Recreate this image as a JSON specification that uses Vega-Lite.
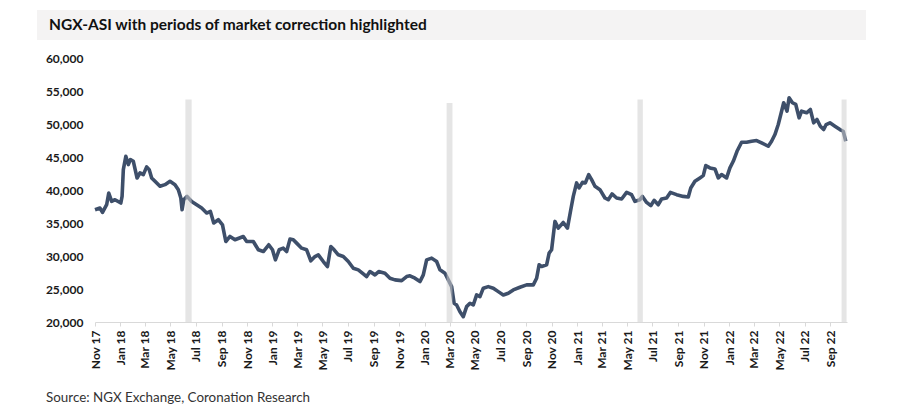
{
  "$schema": "https://vega.github.io/schema/vega-lite/v6.json",
  "background": "#fff",
  "padding": {"left": 37, "top": 10, "right": 0, "bottom": 0},
  "datasets": {
    "asi": [
      {"date": "2017-11-01", "value": 37000},
      {"date": "2017-11-13", "value": 37270},
      {"date": "2017-11-19", "value": 36600},
      {"date": "2017-11-29", "value": 37770},
      {"date": "2017-12-04", "value": 39550},
      {"date": "2017-12-11", "value": 38270},
      {"date": "2017-12-19", "value": 38530},
      {"date": "2018-01-02", "value": 38030},
      {"date": "2018-01-05", "value": 39030},
      {"date": "2018-01-08", "value": 43090},
      {"date": "2018-01-14", "value": 45110},
      {"date": "2018-01-20", "value": 43850},
      {"date": "2018-01-25", "value": 44610},
      {"date": "2018-02-01", "value": 44350},
      {"date": "2018-02-10", "value": 41820},
      {"date": "2018-02-17", "value": 42590},
      {"date": "2018-02-25", "value": 42330},
      {"date": "2018-03-05", "value": 43500},
      {"date": "2018-03-11", "value": 43090},
      {"date": "2018-03-17", "value": 41830},
      {"date": "2018-03-25", "value": 41320},
      {"date": "2018-04-06", "value": 40560},
      {"date": "2018-04-18", "value": 40810},
      {"date": "2018-04-30", "value": 41320},
      {"date": "2018-05-12", "value": 40810},
      {"date": "2018-05-20", "value": 40050},
      {"date": "2018-05-26", "value": 38790},
      {"date": "2018-05-29", "value": 37010},
      {"date": "2018-06-02", "value": 38530},
      {"date": "2018-06-10", "value": 39030},
      {"date": "2018-06-21", "value": 38270},
      {"date": "2018-07-03", "value": 37770},
      {"date": "2018-07-15", "value": 37270},
      {"date": "2018-07-27", "value": 36510},
      {"date": "2018-08-05", "value": 36760},
      {"date": "2018-08-13", "value": 35000},
      {"date": "2018-08-24", "value": 35500},
      {"date": "2018-09-03", "value": 34730},
      {"date": "2018-09-11", "value": 32200},
      {"date": "2018-09-21", "value": 32960},
      {"date": "2018-10-03", "value": 32460},
      {"date": "2018-10-23", "value": 32960},
      {"date": "2018-10-31", "value": 32200},
      {"date": "2018-11-16", "value": 32200},
      {"date": "2018-11-28", "value": 30940},
      {"date": "2018-12-10", "value": 30680},
      {"date": "2018-12-23", "value": 31700},
      {"date": "2019-01-01", "value": 30940},
      {"date": "2019-01-08", "value": 29420},
      {"date": "2019-01-17", "value": 30940},
      {"date": "2019-01-27", "value": 31190},
      {"date": "2019-02-04", "value": 30680},
      {"date": "2019-02-12", "value": 32560},
      {"date": "2019-02-20", "value": 32460},
      {"date": "2019-02-28", "value": 31950},
      {"date": "2019-03-12", "value": 31190},
      {"date": "2019-03-24", "value": 30940},
      {"date": "2019-04-03", "value": 29270},
      {"date": "2019-04-13", "value": 29920},
      {"date": "2019-04-21", "value": 30180},
      {"date": "2019-05-03", "value": 29160},
      {"date": "2019-05-13", "value": 28400},
      {"date": "2019-05-21", "value": 31440},
      {"date": "2019-05-29", "value": 30940},
      {"date": "2019-06-08", "value": 30180},
      {"date": "2019-06-20", "value": 29920},
      {"date": "2019-07-02", "value": 29160},
      {"date": "2019-07-14", "value": 28150},
      {"date": "2019-07-26", "value": 27900},
      {"date": "2019-08-07", "value": 27290},
      {"date": "2019-08-15", "value": 26880},
      {"date": "2019-08-23", "value": 27640},
      {"date": "2019-09-04", "value": 27140},
      {"date": "2019-09-13", "value": 27640},
      {"date": "2019-09-28", "value": 27390},
      {"date": "2019-10-10", "value": 26630},
      {"date": "2019-10-22", "value": 26380},
      {"date": "2019-11-07", "value": 26270},
      {"date": "2019-11-19", "value": 26880},
      {"date": "2019-11-27", "value": 26990},
      {"date": "2019-12-09", "value": 26630},
      {"date": "2019-12-21", "value": 26120},
      {"date": "2019-12-29", "value": 27140},
      {"date": "2020-01-06", "value": 29420},
      {"date": "2020-01-18", "value": 29680},
      {"date": "2020-01-30", "value": 29160},
      {"date": "2020-02-07", "value": 27900},
      {"date": "2020-02-19", "value": 27390},
      {"date": "2020-02-27", "value": 26380},
      {"date": "2020-03-06", "value": 25360},
      {"date": "2020-03-12", "value": 22840},
      {"date": "2020-03-18", "value": 22580},
      {"date": "2020-03-26", "value": 21560},
      {"date": "2020-04-03", "value": 20810},
      {"date": "2020-04-11", "value": 22330},
      {"date": "2020-04-19", "value": 22840},
      {"date": "2020-04-27", "value": 22580},
      {"date": "2020-05-05", "value": 24100},
      {"date": "2020-05-13", "value": 23840},
      {"date": "2020-05-21", "value": 25120},
      {"date": "2020-06-02", "value": 25360},
      {"date": "2020-06-14", "value": 25120},
      {"date": "2020-06-26", "value": 24600},
      {"date": "2020-07-08", "value": 24100},
      {"date": "2020-07-20", "value": 24360},
      {"date": "2020-08-01", "value": 24860},
      {"date": "2020-08-17", "value": 25270},
      {"date": "2020-09-02", "value": 25620},
      {"date": "2020-09-18", "value": 25620},
      {"date": "2020-09-26", "value": 26630},
      {"date": "2020-10-02", "value": 28660},
      {"date": "2020-10-08", "value": 28400},
      {"date": "2020-10-20", "value": 28660},
      {"date": "2020-10-26", "value": 30430},
      {"date": "2020-11-01", "value": 30940},
      {"date": "2020-11-09", "value": 35240},
      {"date": "2020-11-17", "value": 34230},
      {"date": "2020-11-29", "value": 35080},
      {"date": "2020-12-09", "value": 34230},
      {"date": "2020-12-17", "value": 37010},
      {"date": "2020-12-23", "value": 39030},
      {"date": "2020-12-31", "value": 41070},
      {"date": "2021-01-06", "value": 40310},
      {"date": "2021-01-14", "value": 41160},
      {"date": "2021-01-21", "value": 41070},
      {"date": "2021-01-29", "value": 42330},
      {"date": "2021-02-05", "value": 41570},
      {"date": "2021-02-13", "value": 40560},
      {"date": "2021-02-25", "value": 40050},
      {"date": "2021-03-09", "value": 38790},
      {"date": "2021-03-17", "value": 38530},
      {"date": "2021-03-26", "value": 39400},
      {"date": "2021-04-06", "value": 38790},
      {"date": "2021-04-18", "value": 38640},
      {"date": "2021-04-30", "value": 39640},
      {"date": "2021-05-12", "value": 39290},
      {"date": "2021-05-20", "value": 38270},
      {"date": "2021-06-01", "value": 38530},
      {"date": "2021-06-07", "value": 39030},
      {"date": "2021-06-17", "value": 38120},
      {"date": "2021-06-27", "value": 37620},
      {"date": "2021-07-05", "value": 38430},
      {"date": "2021-07-15", "value": 37770},
      {"date": "2021-07-23", "value": 38640},
      {"date": "2021-08-04", "value": 38790},
      {"date": "2021-08-13", "value": 39640},
      {"date": "2021-08-28", "value": 39290},
      {"date": "2021-09-13", "value": 39030},
      {"date": "2021-09-25", "value": 38930},
      {"date": "2021-10-01", "value": 40310},
      {"date": "2021-10-11", "value": 41320},
      {"date": "2021-10-23", "value": 41830},
      {"date": "2021-10-31", "value": 42180},
      {"date": "2021-11-06", "value": 43700},
      {"date": "2021-11-16", "value": 43350},
      {"date": "2021-11-28", "value": 43190},
      {"date": "2021-12-06", "value": 41830},
      {"date": "2021-12-14", "value": 42330},
      {"date": "2021-12-26", "value": 41830},
      {"date": "2022-01-03", "value": 43350},
      {"date": "2022-01-11", "value": 44350},
      {"date": "2022-01-20", "value": 45870},
      {"date": "2022-01-31", "value": 47240},
      {"date": "2022-02-12", "value": 47240},
      {"date": "2022-02-24", "value": 47390},
      {"date": "2022-03-08", "value": 47490},
      {"date": "2022-03-20", "value": 47140},
      {"date": "2022-04-05", "value": 46630},
      {"date": "2022-04-13", "value": 47390},
      {"date": "2022-04-21", "value": 48400},
      {"date": "2022-04-29", "value": 49920},
      {"date": "2022-05-07", "value": 51940},
      {"date": "2022-05-12", "value": 53220},
      {"date": "2022-05-20", "value": 51940},
      {"date": "2022-05-25", "value": 53980},
      {"date": "2022-06-02", "value": 53220},
      {"date": "2022-06-10", "value": 52960},
      {"date": "2022-06-18", "value": 50940},
      {"date": "2022-06-24", "value": 51940},
      {"date": "2022-07-06", "value": 51700},
      {"date": "2022-07-15", "value": 52200},
      {"date": "2022-07-23", "value": 50180},
      {"date": "2022-07-31", "value": 50690},
      {"date": "2022-08-08", "value": 49670},
      {"date": "2022-08-16", "value": 49160},
      {"date": "2022-08-22", "value": 49920},
      {"date": "2022-08-31", "value": 50180},
      {"date": "2022-09-12", "value": 49670},
      {"date": "2022-09-24", "value": 49160},
      {"date": "2022-10-02", "value": 48900},
      {"date": "2022-10-08", "value": 47390}
    ],
    "corrections": [
      {"start": "2018-06-06", "end": "2018-06-21", "top": 53700},
      {"start": "2020-02-23", "end": "2020-03-08", "top": 53200},
      {"start": "2021-05-26", "end": "2021-06-08", "top": 53700},
      {"start": "2022-09-28", "end": "2022-10-10", "top": 53700}
    ],
    "heading": [
      {"label": "NGX-ASI with periods of market correction highlighted"}
    ]
  },
  "spacing": 12,
  "columns": 1,
  "concat": [
    {
      "width": 771,
      "height": 30,
      "data": {"name": "heading"},
      "encoding": {
        "x": {"datum": 0, "type": "quantitative", "scale": {"domain": [58, 829]}, "axis": null}
      },
      "layer": [
        {
          "mark": {"type": "rect", "color": "#f4f3f3"},
          "encoding": {"x2": {"datum": 829}}
        },
        {
          "mark": {
            "type": "text",
            "align": "left",
            "baseline": "middle",
            "dx": 12,
            "font": "Lato",
            "fontSize": 15.5,
            "fontWeight": "bold",
            "color": "#111"
          },
          "encoding": {"text": {"field": "label"}}
        }
      ]
    },
    {
      "width": 752,
      "height": 264,
      "title": {
        "text": "Source: NGX Exchange, Coronation Research",
        "orient": "bottom",
        "anchor": "start",
        "frame": "bounds",
        "offset": 21,
        "dx": 9,
        "fontSize": 13.4,
        "fontWeight": "normal",
        "color": "#333"
      },
      "encoding": {
        "x": {
          "type": "temporal",
          "scale": {
            "type": "utc",
            "domain": [
              {"year": 2017, "month": 11, "date": 1, "utc": true},
              {"year": 2022, "month": 10, "date": 11, "utc": true}
            ]
          },
          "axis": {
            "title": null,
            "format": "%b %y",
            "tickCount": {"interval": "month", "step": 2},
            "labelAngle": 270,
            "labelAlign": "right",
            "labelBaseline": "middle",
            "labelPadding": 4,
            "labelOverlap": false,
            "labelFlush": false,
            "labelFontSize": 12,
            "labelFontWeight": "bold",
            "tickSize": 4,
            "grid": false
          }
        },
        "y": {
          "type": "quantitative",
          "scale": {"domain": [20000, 60000], "nice": false, "zero": false},
          "axis": {
            "title": null,
            "values": [20000, 25000, 30000, 35000, 40000, 45000, 50000, 55000, 60000],
            "format": ",.0f",
            "grid": false,
            "domain": false,
            "ticks": false,
            "labelPadding": 12,
            "labelFontSize": 12,
            "labelFontWeight": "bold",
            "minExtent": 58
          }
        }
      },
      "layer": [
        {
          "data": {"name": "asi"},
          "mark": {"type": "line", "color": "#3e4f6a", "strokeWidth": 3.6, "strokeJoin": "round"},
          "encoding": {
            "x": {"field": "date"},
            "y": {"field": "value"}
          }
        },
        {
          "data": {"name": "corrections"},
          "mark": {"type": "rect", "color": "#d0d0d0", "opacity": 0.55},
          "encoding": {
            "x": {"field": "start"},
            "x2": {"field": "end"},
            "y": {"field": "top"},
            "y2": {"datum": 20000}
          }
        }
      ]
    }
  ],
  "config": {
    "font": "Lato",
    "view": {"stroke": null},
    "axis": {
      "labelFont": "Lato",
      "labelColor": "#1a1a1a",
      "domainColor": "#d9d9d9",
      "tickColor": "#d9d9d9"
    },
    "title": {
      "font": "Lato",
      "fontSize": 13,
      "color": "#333"
    }
  }
}
